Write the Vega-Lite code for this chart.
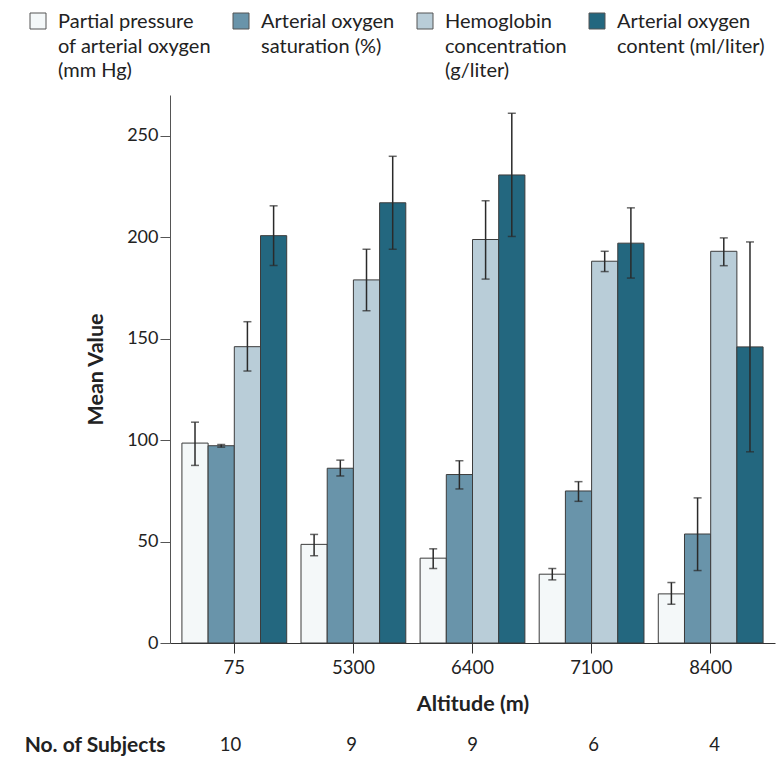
{
  "$schema": "https://vega.github.io/schema/vega-lite/v6.json",
  "padding": {"left": 23, "top": 11, "right": 5, "bottom": 5},
  "background": "white",
  "config": {
    "view": {"stroke": null},
    "font": "Lato",
    "style": {"guide-label": {"lineHeight": 24.5, "dy": 7}},
    "axis": {"labelFont": "Lato", "titleFont": "Lato", "labelColor": "#222", "titleColor": "#222", "domainColor": "#555", "tickColor": "#555", "grid": false}
  },
  "datasets": {
    "bars": [
      {"Altitude": "75", "Measure": "Partial pressure|of arterial oxygen|(mm Hg)", "Mean": 98.5, "Low": 87.5, "High": 108.8},
      {"Altitude": "75", "Measure": "Arterial oxygen|saturation (%)", "Mean": 97.2, "Low": 96.5, "High": 97.8},
      {"Altitude": "75", "Measure": "Hemoglobin|concentration|(g/liter)", "Mean": 146, "Low": 134, "High": 158.3},
      {"Altitude": "75", "Measure": "Arterial oxygen|content (ml/liter)", "Mean": 200.7, "Low": 186, "High": 215.4},
      {"Altitude": "5300", "Measure": "Partial pressure|of arterial oxygen|(mm Hg)", "Mean": 48.6, "Low": 43, "High": 53.5},
      {"Altitude": "5300", "Measure": "Arterial oxygen|saturation (%)", "Mean": 86.1, "Low": 82.3, "High": 90.1},
      {"Altitude": "5300", "Measure": "Hemoglobin|concentration|(g/liter)", "Mean": 178.9, "Low": 163.7, "High": 194},
      {"Altitude": "5300", "Measure": "Arterial oxygen|content (ml/liter)", "Mean": 216.9, "Low": 194, "High": 239.8},
      {"Altitude": "6400", "Measure": "Partial pressure|of arterial oxygen|(mm Hg)", "Mean": 41.8, "Low": 36.7, "High": 46.4},
      {"Altitude": "6400", "Measure": "Arterial oxygen|saturation (%)", "Mean": 83, "Low": 75.9, "High": 89.8},
      {"Altitude": "6400", "Measure": "Hemoglobin|concentration|(g/liter)", "Mean": 198.8, "Low": 179.3, "High": 217.9},
      {"Altitude": "6400", "Measure": "Arterial oxygen|content (ml/liter)", "Mean": 230.6, "Low": 200.3, "High": 261},
      {"Altitude": "7100", "Measure": "Partial pressure|of arterial oxygen|(mm Hg)", "Mean": 33.9, "Low": 31.1, "High": 36.7},
      {"Altitude": "7100", "Measure": "Arterial oxygen|saturation (%)", "Mean": 74.9, "Low": 69.8, "High": 79.5},
      {"Altitude": "7100", "Measure": "Hemoglobin|concentration|(g/liter)", "Mean": 188.1, "Low": 183, "High": 193},
      {"Altitude": "7100", "Measure": "Arterial oxygen|content (ml/liter)", "Mean": 197, "Low": 179.8, "High": 214.4},
      {"Altitude": "8400", "Measure": "Partial pressure|of arterial oxygen|(mm Hg)", "Mean": 24.2, "Low": 19.1, "High": 29.8},
      {"Altitude": "8400", "Measure": "Arterial oxygen|saturation (%)", "Mean": 53.7, "Low": 35.7, "High": 71.5},
      {"Altitude": "8400", "Measure": "Hemoglobin|concentration|(g/liter)", "Mean": 193, "Low": 185.9, "High": 199.6},
      {"Altitude": "8400", "Measure": "Arterial oxygen|content (ml/liter)", "Mean": 145.9, "Low": 94.2, "High": 197.6}
    ],
    "subjects": [
      {"Altitude": "75", "Row": "No. of Subjects", "Subjects": 10},
      {"Altitude": "5300", "Row": "No. of Subjects", "Subjects": 9},
      {"Altitude": "6400", "Row": "No. of Subjects", "Subjects": 9},
      {"Altitude": "7100", "Row": "No. of Subjects", "Subjects": 6},
      {"Altitude": "8400", "Row": "No. of Subjects", "Subjects": 4}
    ]
  },
  "spacing": 18,
  "resolve": {"scale": {"color": "independent"}, "legend": {"color": "independent"}},
  "vconcat": [
    {
      "width": 605,
      "height": 548,
      "data": {"name": "bars"},
      "encoding": {
        "x": {
          "field": "Altitude", "type": "nominal",
          "sort": ["75", "5300", "6400", "7100", "8400"],
          "scale": {"paddingInner": 0.12, "paddingOuter": 0.1},
          "axis": {"title": "Altitude (m)", "labelAngle": 0, "tickSize": 10, "labelPadding": -1.5, "titlePadding": 16, "labelFontSize": 18.5, "titleFontSize": 21.5, "titleFontWeight": "bold", "domainColor": "#333", "tickColor": "#333"}
        },
        "xOffset": {
          "field": "Measure", "type": "nominal",
          "sort": ["Partial pressure|of arterial oxygen|(mm Hg)", "Arterial oxygen|saturation (%)", "Hemoglobin|concentration|(g/liter)", "Arterial oxygen|content (ml/liter)"],
          "scale": {"paddingInner": 0, "paddingOuter": 0}
        }
      },
      "layer": [
        {
          "mark": {"type": "bar", "stroke": "#3c3c3c", "strokeWidth": 1},
          "encoding": {
            "y": {
              "field": "Mean", "type": "quantitative", "title": "Mean Value",
              "scale": {"domain": [0, 270], "nice": false},
              "axis": {"values": [0, 50, 100, 150, 200, 250], "tickSize": 10, "labelPadding": 2, "labelOffset": -7, "labelFontSize": 18, "titleFontSize": 21.5, "titleFontWeight": "bold", "titlePadding": 19}
            },
            "color": {
              "field": "Measure", "type": "nominal",
              "sort": ["Partial pressure|of arterial oxygen|(mm Hg)", "Arterial oxygen|saturation (%)", "Hemoglobin|concentration|(g/liter)", "Arterial oxygen|content (ml/liter)"],
              "scale": {
                "domain": ["Partial pressure|of arterial oxygen|(mm Hg)", "Arterial oxygen|saturation (%)", "Hemoglobin|concentration|(g/liter)", "Arterial oxygen|content (ml/liter)"],
                "range": ["#f4f8f9", "#6994aa", "#b9cdd8", "#23677f"]
              },
              "legend": {
                "title": null, "orient": "none", "legendX": -142, "legendY": -84,
                "direction": "horizontal", "columns": 4, "columnPadding": 20,
                "symbolType": "square", "symbolSize": 256, "symbolStrokeColor": "#555", "symbolStrokeWidth": 1,
                "labelFont": "Lato", "labelFontSize": 20, "labelColor": "#222", "labelOffset": 10,
                "labelBaseline": "alphabetic", "labelLimit": 400,
                "labelExpr": "split(datum.label + (length(split(datum.label, '|')) == 2 ? '|' : ''), '|')"
              }
            }
          }
        },
        {
          "mark": {"type": "rule", "color": "#2a2a2a", "strokeWidth": 1.5},
          "encoding": {
            "y": {"field": "Low", "type": "quantitative", "title": "Mean Value"},
            "y2": {"field": "High"}
          }
        },
        {
          "mark": {"type": "tick", "color": "#2a2a2a", "thickness": 1.5, "size": 8},
          "encoding": {"y": {"field": "Low", "type": "quantitative", "title": "Mean Value"}}
        },
        {
          "mark": {"type": "tick", "color": "#2a2a2a", "thickness": 1.5, "size": 8},
          "encoding": {"y": {"field": "High", "type": "quantitative", "title": "Mean Value"}}
        }
      ]
    },
    {
      "width": 605,
      "height": 24,
      "data": {"name": "subjects"},
      "mark": {"type": "text", "fontSize": 18.5, "color": "#222", "font": "Lato"},
      "encoding": {
        "x": {
          "field": "Altitude", "type": "nominal",
          "sort": ["75", "5300", "6400", "7100", "8400"],
          "scale": {"paddingInner": 0.12, "paddingOuter": 0.1},
          "axis": null
        },
        "y": {
          "field": "Row", "type": "nominal",
          "axis": {"title": null, "domain": false, "ticks": false, "tickSize": 0, "labelPadding": 5, "labelOffset": -7, "labelFontSize": 21, "labelFontWeight": "bold", "labelColor": "#222"}
        },
        "text": {"field": "Subjects", "type": "nominal"}
      }
    }
  ]
}
